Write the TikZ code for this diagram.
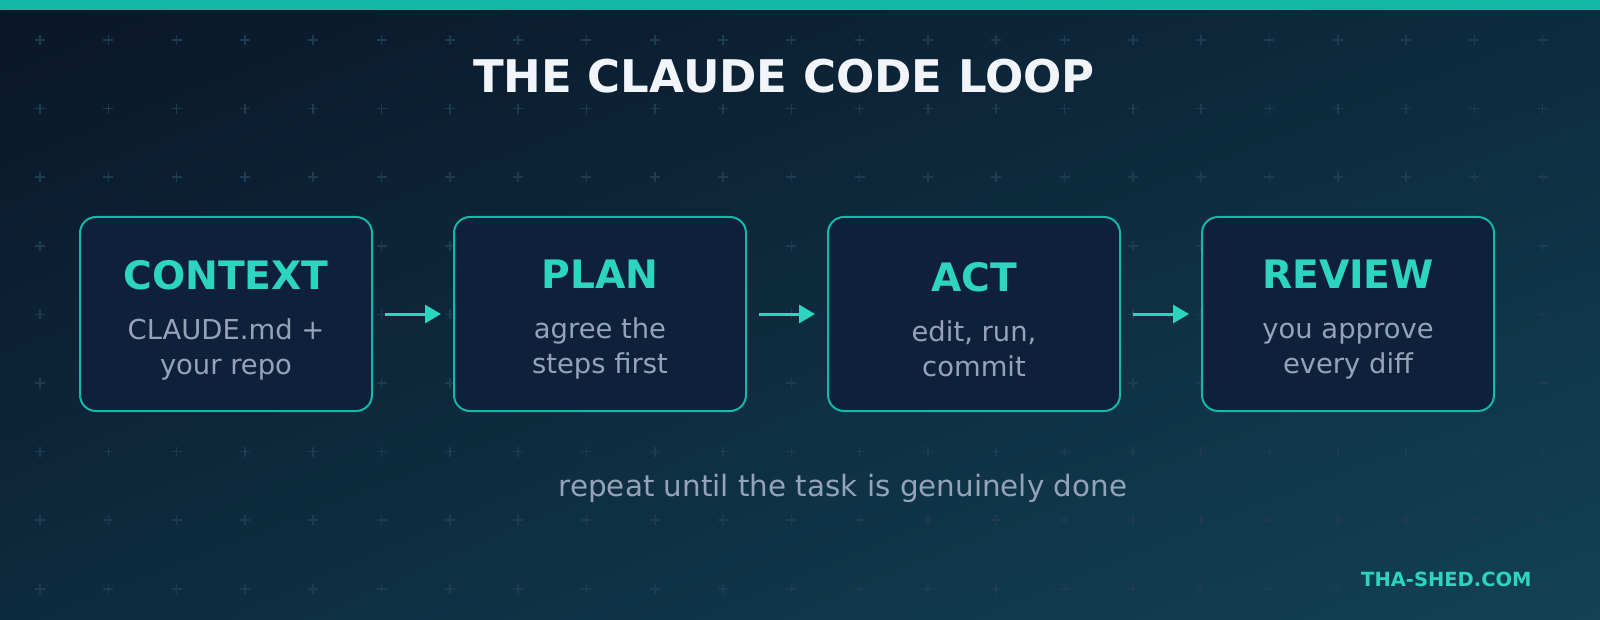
\documentclass[tikz,border=0pt]{standalone}
\usepackage{fontspec}
\setmainfont{DejaVu Sans}
\usetikzlibrary{arrows.meta, positioning, shadings}

\definecolor{bgdark}{HTML}{0A1628}
\definecolor{bgmid}{HTML}{0E2A3E}
\definecolor{bglight}{HTML}{124254}
\definecolor{teal}{HTML}{14B8A6}
\definecolor{tealtext}{HTML}{2DD4BF}
\definecolor{boxfill}{HTML}{0F213A}
\definecolor{bodygrey}{HTML}{94A3B8}
\definecolor{crossgrey}{HTML}{1F3B52}
\definecolor{titlewhite}{HTML}{F1F5F9}

\tikzset{
  step box/.style={draw=teal, line width=1pt, fill=boxfill,
    rounded corners=8pt, minimum width=146pt, minimum height=97pt,
    inner sep=0pt},
  step text/.style={align=center, inner sep=0pt, text=bodygrey,
    font=\fontsize{13.7}{17.5}\selectfont},
  flow arrow/.style={-{Triangle[length=8pt,width=9pt]}, draw=tealtext,
    line width=1.5pt, shorten <=6pt, shorten >=6pt}
}
\newcommand{\stephead}[1]{{\fontsize{19.6}{22}\selectfont\bfseries\color{tealtext}#1}}

\begin{document}
\begin{tikzpicture}[x=0.5pt, y=-0.5pt]

% background
\useasboundingbox (0,0) rectangle (1600,620);
\begin{scope}
\clip (0,0) rectangle (1600,620);
\shade[upper left=bgdark, lower right=bglight, upper right=bgmid, lower left=bgmid]
  (0,0) rectangle (1600,620);
\end{scope}
\fill[teal] (0,0) rectangle (1600,10);

% grid of crosses
\foreach \i in {0,...,22}
  \foreach \j in {0,...,8}
    \draw[crossgrey, line width=0.8pt]
      ({40+68.3*\i-5},{40+68.6*\j}) -- ++(10,0)
      ({40+68.3*\i},{40+68.6*\j-5}) -- ++(0,10);

% title
\node[text=titlewhite, font=\fontsize{22.5}{26}\selectfont\bfseries] (title) at (784,76) {THE CLAUDE CODE LOOP};

% steps
\node[step box] (context) at (226,314) {};
\node[step box, right=40pt of context] (plan) {};
\node[step box, right=40pt of plan] (act) {};
\node[step box, right=40pt of act] (review) {};

\node[step text] (context text) at ([yshift=-3pt]context.center)
  {\stephead{CONTEXT}\\[7.5pt]CLAUDE.md +\\your repo};
\node[step text] (plan text) at ([yshift=-3pt]plan.center)
  {\stephead{PLAN}\\[7.5pt]agree the\\steps first};
\node[step text] (act text) at ([yshift=-3pt]act.center)
  {\stephead{ACT}\\[7.5pt]edit, run,\\commit};
\node[step text] (review text) at ([yshift=-3pt]review.center)
  {\stephead{REVIEW}\\[7.5pt]you approve\\every diff};

% arrows
\draw[flow arrow] (context) -- (plan);
\draw[flow arrow] (plan) -- (act);
\draw[flow arrow] (act) -- (review);

% footer texts
\node[text=bodygrey, font=\fontsize{14.7}{17}\selectfont] (repeat) at (843,488) {repeat until the task is genuinely done};
\node[text=tealtext, font=\fontsize{9.75}{11}\selectfont\bfseries, anchor=east, inner sep=0pt] (site) at (1532,579) {THA-SHED.COM};

\end{tikzpicture}
\end{document}
